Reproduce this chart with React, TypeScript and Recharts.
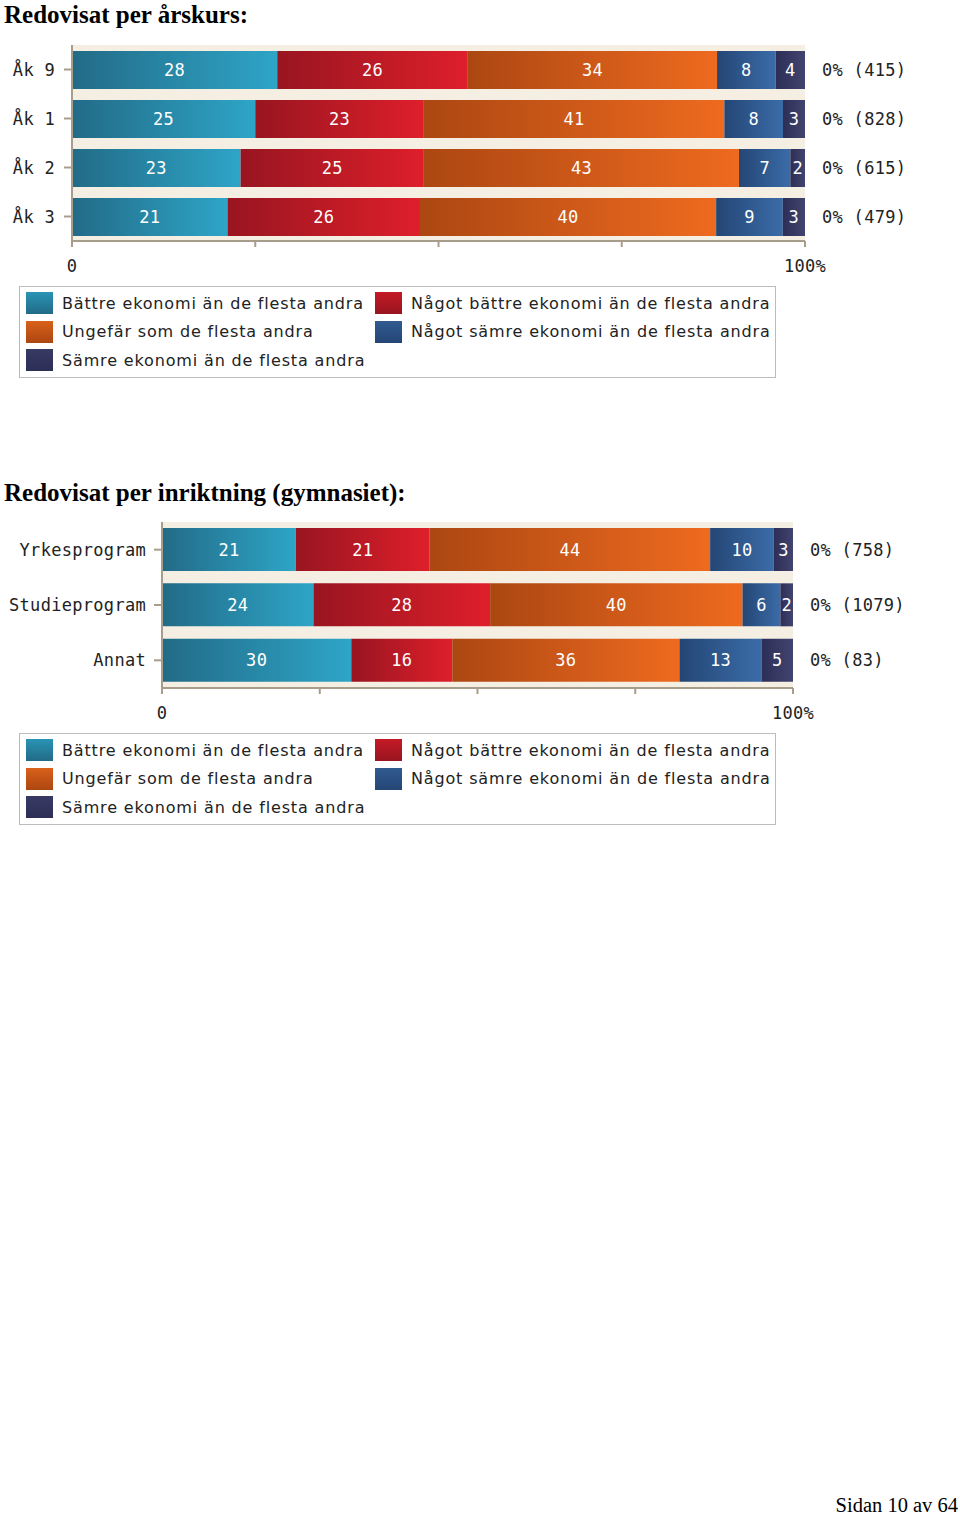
import React from 'react';
import { BarChart, Bar, XAxis, YAxis, CartesianGrid, LabelList } from 'recharts';

// ---------- data ----------
const seriesNames = [
  'Bättre ekonomi än de flesta andra',
  'Något bättre ekonomi än de flesta andra',
  'Ungefär som de flesta andra',
  'Något sämre ekonomi än de flesta andra',
  'Sämre ekonomi än de flesta andra',
];

const categories1 = ['Åk 9', 'Åk 1', 'Åk 2', 'Åk 3'];
const battre1 = [28, 25, 23, 21];
const nagotBattre1 = [26, 23, 25, 26];
const ungefar1 = [34, 41, 43, 40];
const nagotSamre1 = [8, 8, 7, 9];
const samre1 = [4, 3, 2, 3];
const totals1 = ['0% (415)', '0% (828)', '0% (615)', '0% (479)'];

const categories2 = ['Yrkesprogram', 'Studieprogram', 'Annat'];
const battre2 = [21, 24, 30];
const nagotBattre2 = [21, 28, 16];
const ungefar2 = [44, 40, 36];
const nagotSamre2 = [10, 6, 13];
const samre2 = [3, 2, 5];
const totals2 = ['0% (758)', '0% (1079)', '0% (83)'];

const xTickValues = [0, 0.25, 0.5, 0.75, 1];
const xTickLabels = ['0', '', '', '', '100%'];

// ---------- styles ----------
const keys = ['s0', 's1', 's2', 's3', 's4'];
const gradStops: [string, string][] = [
  ['#226b87', '#2ea5c7'],
  ['#981520', '#de1f2b'],
  ['#ac4712', '#ee6a1f'],
  ['#244675', '#3b6ca8'],
  ['#2d2e56', '#41446f'],
];
const swatchColors = ['#2a94b4', '#c41a26', '#d9601a', '#315a90', '#383a64'];

const MONO = '"DejaVu Sans Mono", monospace';
const SANS = '"DejaVu Sans", sans-serif';
const AXIS_COLOR = '#a89d8a';
const monoTick = { fill: '#222', fontFamily: MONO, fontSize: 17, letterSpacing: 0.3 };

function buildRows(cats: string[], vals: number[][], totals: string[]) {
  return cats.map((c, i) => {
    const row: Record<string, string | number> = { name: c, total: totals[i] };
    keys.forEach((k, j) => {
      row[k] = vals[j][i];
    });
    return row;
  });
}

const rows1 = buildRows(categories1, [battre1, nagotBattre1, ungefar1, nagotSamre1, samre1], totals1);
const rows2 = buildRows(categories2, [battre2, nagotBattre2, ungefar2, nagotSamre2, samre2], totals2);

type ChartProps = {
  id: string;
  data: Record<string, string | number>[];
  top: number;
  width: number;
  height: number;
  marginTop: number;
  leftW: number;
  rightW: number;
  xH: number;
  barSize: number;
  leftTickMargin: number;
};

function StackChart(p: ChartProps) {
  return (
    <div style={{ position: 'absolute', left: 0, top: p.top }}>
      <BarChart
        width={p.width}
        height={p.height}
        data={p.data}
        layout="vertical"
        stackOffset="expand"
        margin={{ top: p.marginTop, right: 0, bottom: 0, left: 0 }}
      >
        <defs>
          {gradStops.map((g, i) => (
            <linearGradient key={i} id={`${p.id}-g${i}`} x1="0" y1="0" x2="1" y2="0">
              <stop offset="0%" stopColor={g[0]} />
              <stop offset="100%" stopColor={g[1]} />
            </linearGradient>
          ))}
        </defs>
        <CartesianGrid horizontal={false} vertical={false} fill="#f5efe3" stroke="none" />
        <XAxis
          type="number"
          domain={[0, 1]}
          ticks={xTickValues}
          tickFormatter={(v: number) => xTickLabels[xTickValues.indexOf(v)] ?? ''}
          height={p.xH}
          stroke={AXIS_COLOR}
          strokeWidth={2}
          tickSize={6}
          tickMargin={13}
          tick={monoTick}
          interval={0}
          allowDataOverflow
        />
        <XAxis
          xAxisId="top"
          orientation="top"
          type="number"
          domain={[0, 1]}
          height={0}
          tick={false}
          tickLine={false}
          stroke="#bdb3a2"
          strokeWidth={2}
        />
        <YAxis
          type="category"
          dataKey="name"
          width={p.leftW}
          stroke={AXIS_COLOR}
          strokeWidth={2}
          tickSize={8}
          tickMargin={p.leftTickMargin}
          tick={monoTick}
          interval={0}
        />
        <YAxis
          yAxisId="right"
          orientation="right"
          type="category"
          dataKey="total"
          width={p.rightW}
          axisLine={false}
          tickLine={false}
          tickSize={0}
          tickMargin={17}
          tick={monoTick}
          interval={0}
        />
        {keys.map((k, i) => (
          <Bar
            key={k}
            dataKey={k}
            stackId="a"
            barSize={p.barSize}
            fill={`url(#${p.id}-g${i})`}
            isAnimationActive={false}
          >
            <LabelList
              dataKey={k}
              position="center"
              fill="#ffffff"
              style={{ fontFamily: MONO, fontSize: 17, letterSpacing: 0.3 }}
            />
          </Bar>
        ))}
      </BarChart>
    </div>
  );
}

function LegendBox({ top }: { top: number }) {
  const pos = [
    [0, 0],
    [1, 0],
    [0, 1],
    [1, 1],
    [0, 2],
  ];
  return (
    <div
      style={{
        position: 'absolute',
        left: 19,
        top,
        width: 755,
        height: 90,
        border: '1px solid #bcbcbc',
        background: '#fff',
      }}
    >
      {seriesNames.map((n, i) => {
        const [c, r] = pos[i];
        const left = c === 0 ? 6 : 355;
        const rowTop = 5 + r * 28.7;
        return (
          <div key={n} style={{ position: 'absolute', left, top: rowTop, height: 22, display: 'flex', alignItems: 'center' }}>
            <div
              style={{
                width: 27,
                height: 22,
                background: `linear-gradient(to bottom, ${swatchColors[i]}, ${gradStops[i][0]})`,
                marginRight: 9,
              }}
            />
            <span style={{ fontFamily: SANS, fontSize: 16, letterSpacing: 0.85, color: '#222', whiteSpace: 'nowrap' }}>{n}</span>
          </div>
        );
      })}
    </div>
  );
}

const titleStyle: React.CSSProperties = {
  position: 'absolute',
  left: 4,
  fontFamily: '"Liberation Serif", "Times New Roman", serif',
  fontWeight: 'bold',
  fontSize: 25,
  lineHeight: '28px',
  color: '#000',
  whiteSpace: 'nowrap',
};

export default function App() {
  return (
    <div style={{ position: 'absolute', left: 0, top: 0, width: 960, height: 1515, background: '#fff', overflow: 'hidden' }}>
      <div style={{ ...titleStyle, top: 1 }}>Redovisat per årskurs:</div>
      <StackChart
        id="c1"
        data={rows1}
        top={40}
        width={960}
        height={240}
        marginTop={5}
        leftW={72}
        rightW={155}
        xH={39}
        barSize={38}
        leftTickMargin={9}
      />
      <LegendBox top={286} />

      <div style={{ ...titleStyle, top: 479 }}>Redovisat per inriktning (gymnasiet):</div>
      <StackChart
        id="c2"
        data={rows2}
        top={515}
        width={960}
        height={215}
        marginTop={7}
        leftW={162}
        rightW={167}
        xH={42}
        barSize={43}
        leftTickMargin={8}
      />
      <LegendBox top={733} />

      <div
        style={{
          position: 'absolute',
          right: 2,
          top: 1496,
          fontFamily: '"Liberation Serif", "Times New Roman", serif',
          fontSize: 20.5,
          lineHeight: '19px',
          color: '#000',
          whiteSpace: 'nowrap',
        }}
      >
        Sidan 10 av 64
      </div>
    </div>
  );
}
